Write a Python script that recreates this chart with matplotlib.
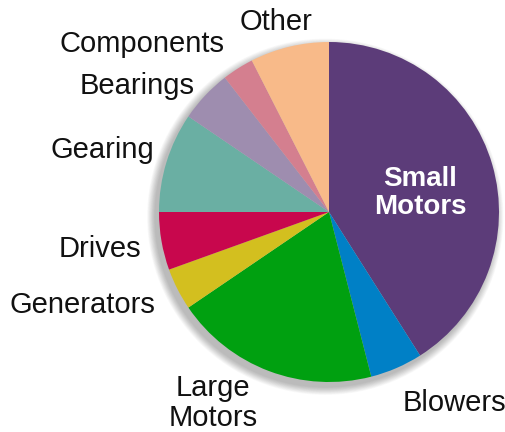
import matplotlib.pyplot as plt
from matplotlib.patches import Circle
import numpy as np

plt.rcParams['font.family'] = ['Liberation Sans', 'DejaVu Sans']

# share of each segment (percent), clockwise from 12 o'clock
segments = ["Small Motors", "Blowers", "Large Motors", "Generators", "Drives",
            "Gearing", "Bearings", "Components", "Other"]
shares = [41, 5, 19.5, 4, 5.5, 9.5, 5, 3, 7.5]
colors = ["#5c3c79", "#0080c6", "#00a010", "#d3bf1f", "#c8074d",
          "#6aafa3", "#9e8daf", "#d47f8f", "#f8ba89"]

# label anchor positions in pixels of the 506x432 picture
label_text = ["Small\nMotors", "Blowers", "Large\nMotors", "Generators", "Drives",
              "Gearing", "Bearings", "Components", "Other"]
label_px = [(420, 193), (454, 403), (213, 403), (82, 305), (100, 249),
            (102, 150), (137, 86), (142, 44), (276, 22)]

W, H = 506, 432
cx, cy, r = 329, 212, 170

fig = plt.figure(figsize=(W / 100, H / 100), dpi=100)
ax = fig.add_axes([0, 0, 1, 1])

# soft shadow below/left of the pie
for i in range(12):
    ax.add_patch(Circle((-0.022, -0.028), 1.0 + 0.004 * (12 - i),
                        color="black", alpha=0.025, lw=0, zorder=0))

ax.pie(shares, colors=colors, startangle=90, counterclock=False,
       radius=1, wedgeprops=dict(linewidth=0))

# pie() resets the limits, so set them afterwards
ax.set_xlim(-cx / r, (W - cx) / r)
ax.set_ylim((cy - H) / r, cy / r)
ax.set_aspect("equal", adjustable="datalim")
ax.axis("off")

def px2data(x, y):
    return (x - cx) / r, (cy - y) / r

for name, txt, (x, y) in zip(segments, label_text, label_px):
    dx, dy = px2data(x, y)
    if name == "Small Motors":
        ax.text(dx, dy, txt, color="white", fontsize=20, fontweight="bold",
                ha="center", va="center", linespacing=1.1)
    else:
        ax.text(dx, dy, txt, color="#111111", fontsize=21,
                ha="center", va="center", linespacing=1.05)

fig.savefig("out.png", dpi=100)
